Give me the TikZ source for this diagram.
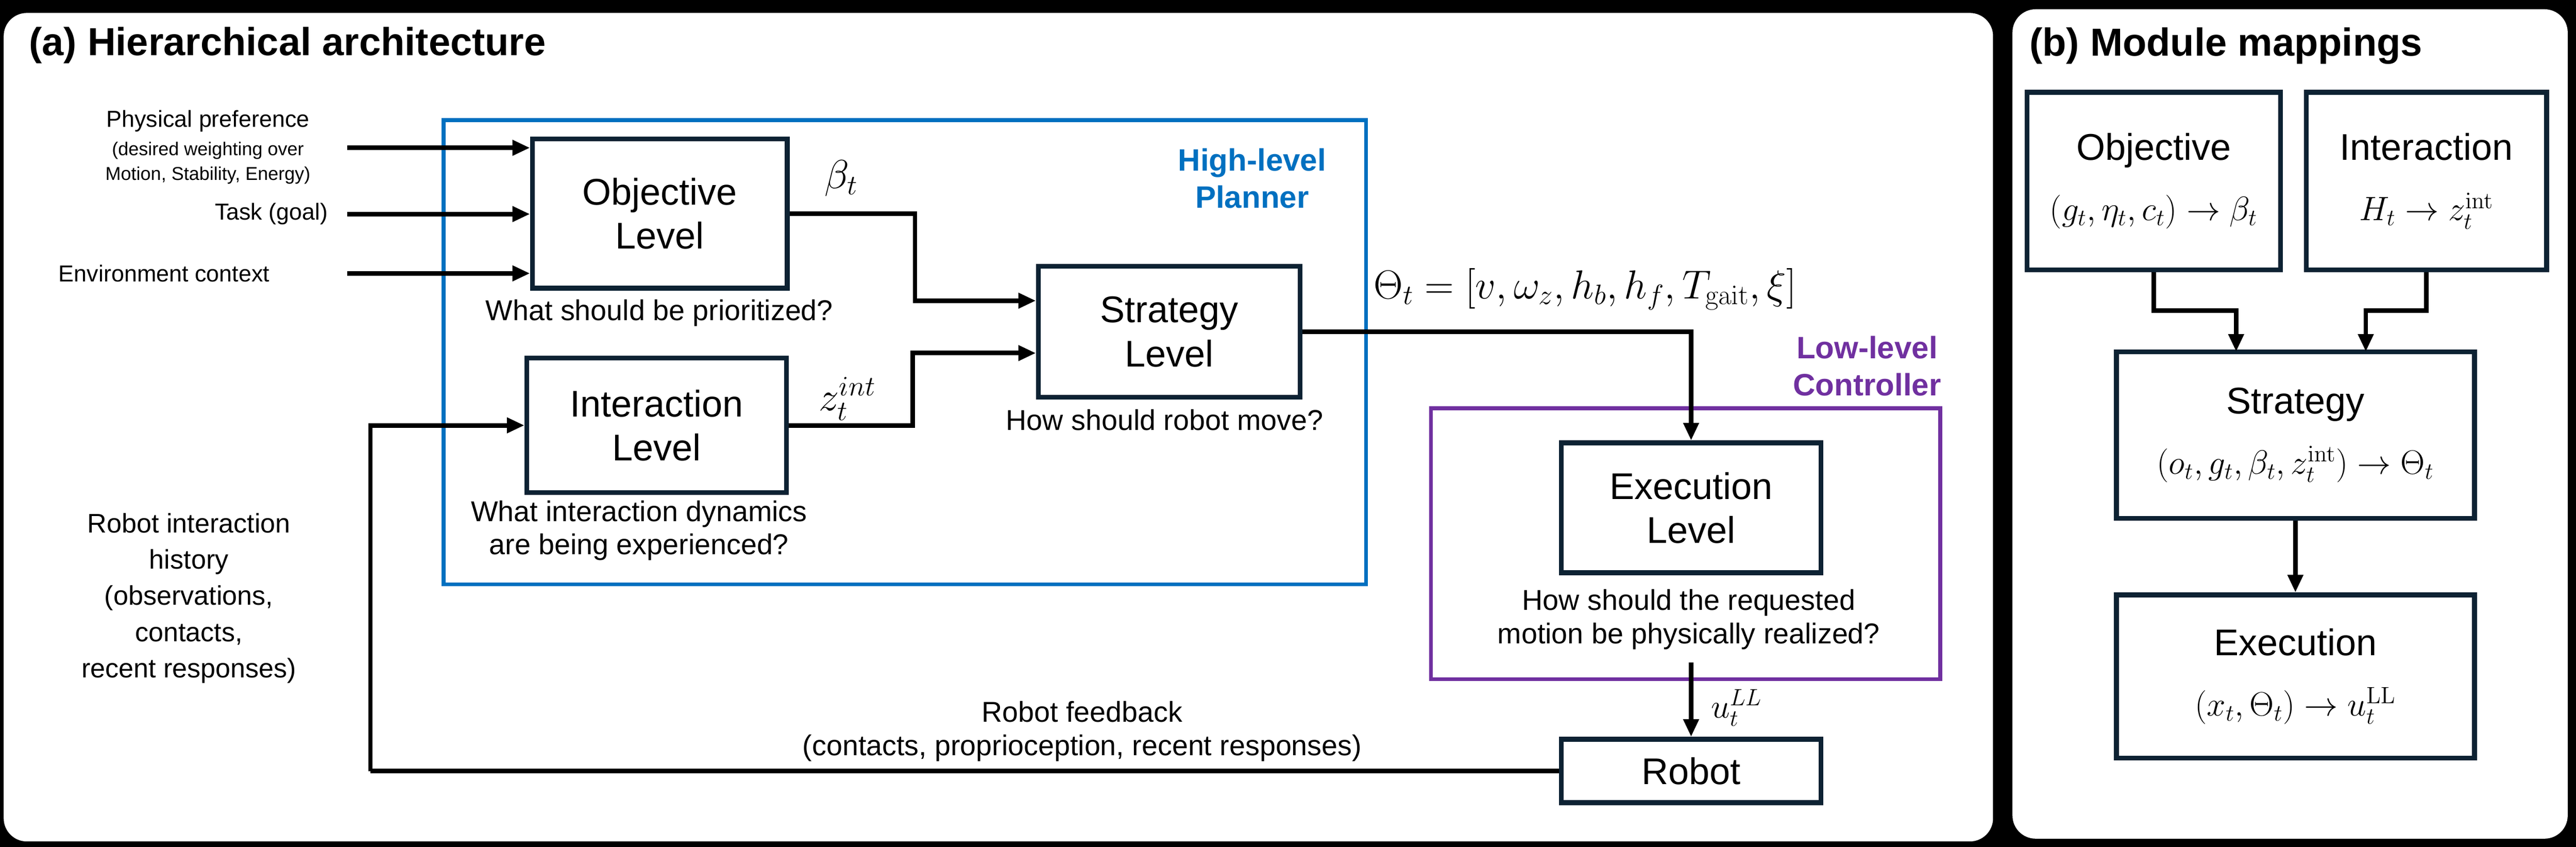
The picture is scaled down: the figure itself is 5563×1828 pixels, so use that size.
\documentclass[tikz,border=0pt]{standalone}
\usepackage[no-math]{fontspec}
\setmainfont{Liberation Sans}
\usetikzlibrary{arrows.meta,positioning,calc}
\definecolor{boxc}{HTML}{0D2233}
\definecolor{hlblue}{HTML}{0070C0}
\definecolor{llpurple}{HTML}{7030A0}
\tikzset{
  lvl/.style={draw=boxc,line width=3pt,fill=white,align=center,font=\fontsize{22.8}{27}\selectfont,inner sep=0pt},
  arr/.style={line width=2.8pt,-{Triangle[length=0.38cm,width=0.32cm]}},
  ln/.style={line width=2.8pt},
  qtxt/.style={align=center,font=\fontsize{17.6}{20.5}\selectfont,inner sep=0pt},
  intxt/.style={align=center,font=\fontsize{14.2}{17}\selectfont,inner sep=0pt},
  mlab/.style={inner sep=0pt,font=\fontsize{26}{30}\selectfont},
  ttl/.style={font=\bfseries\fontsize{24}{28}\selectfont,anchor=west,inner sep=0pt},
  mbox/.style={draw=boxc,line width=3pt,fill=white,align=center,font=\fontsize{22.8}{37}\selectfont,inner sep=0pt},
}
\newcommand{\mmath}[1]{{\fontsize{21}{37}\selectfont$#1$}}
\begin{document}
\begin{tikzpicture}[x=0.01cm,y=-0.01cm]
\useasboundingbox (0,0) rectangle (5563,1828);
\fill[black] (0,0) rectangle (5563,1828);
\fill[white,rounded corners=0.5cm] (8,28) rectangle (4304,1816);
\fill[white,rounded corners=0.5cm] (4346,20) rectangle (5545,1810);
\node[ttl] (ta) at (62,98) {(a) Hierarchical architecture};
\node[ttl] (tb) at (4382,99) {(b) Module mappings};

% group boxes
\draw[hlblue,line width=2.4pt] (958,259) rectangle (2950,1261);
\node[align=center,text=hlblue,font=\bfseries\fontsize{19}{23}\selectfont,inner sep=0pt] (hl) at (2704,385) {High-level\\Planner};
\draw[llpurple,line width=2.4pt] (3090,881) rectangle (4190,1466);
\node[align=center,text=llpurple,font=\bfseries\fontsize{19}{23}\selectfont,inner sep=0pt] (ll) at (4032,790) {Low-level\\Controller};

% level boxes
\node[lvl,minimum width=5.5cm,minimum height=3.22cm] (obj) at (1425,461) {Objective\\Level};
\node[lvl,minimum width=5.6cm,minimum height=2.9cm] (int) at (1418,918) {Interaction\\Level};
\node[lvl,minimum width=5.65cm,minimum height=2.82cm] (strat) at (2525,716) {Strategy\\Level};
\node[lvl,minimum width=5.6cm,minimum height=2.8cm] (exec) at (3652,1096) {Execution\\Level};
\node[lvl,minimum width=5.6cm,minimum height=1.37cm] (robot) at (3652,1664) {Robot};

% questions
\node[qtxt] (q1) at (1424,676) {What should be prioritized?};
\node[qtxt] (q2) at (1380,1145) {What interaction dynamics\\are being experienced?};
\node[qtxt] (q3) at (2515,906) {How should robot move?};
\node[qtxt] (q4) at (3647,1337) {How should the requested\\motion be physically realized?};

% left inputs
\node[intxt] (pp) at (449,261) {Physical preference};
\node[align=center,font=\fontsize{11.4}{15}\selectfont,inner sep=0pt] (pp2) at (449,352) {(desired weighting over\\Motion, Stability, Energy)};
\node[intxt,anchor=east] (task) at (709,462) {Task (goal)};
\node[intxt,anchor=west] (env) at (126,590) {Environment context};
\coordinate (s1) at (750,319);
\coordinate (s2) at (750,462);
\coordinate (s3) at (750,590);
\draw[arr] (s1) -- (s1 -| obj.west);
\draw[arr] (s2) -- (s2 -| obj.west);
\draw[arr] (s3) -- (s3 -| obj.west);
\node[align=center,font=\fontsize{16.5}{22.2}\selectfont,inner sep=0pt] (hist) at (408,1291) {Robot interaction\\history\\(observations,\\contacts,\\recent responses)};

% connectors
\draw[arr] (obj.east) -- (1976,461) |- ([yshift=0.67cm]strat.west);
\draw[arr] (int.east) -- (1971,918) |- ([yshift=-0.46cm]strat.west);
\node[mlab] (beta) at (1817,385) {$\beta_t$};
\node[mlab] (zint) at (1830,861) {$z_t^{int}$};
\draw[arr] (strat.east) -| (exec.north);
\node[mlab] (theta) at (3423,624) {$\Theta_t=[v,\omega_z,h_b,h_f,T_{\mathrm{gait}},\xi]$};
\coordinate (eo) at (3652,1430);
\draw[arr] (eo) -- (robot.north);
\node[mlab,font=\fontsize{22}{26}\selectfont] (ull) at (3750,1528) {$u_t^{LL}$};
\coordinate (fb) at (800,1664);
\draw[ln] (robot.west) -- (fb);
\draw[arr] (fb) |- (int.west);
\node[qtxt] (fbt) at (2337,1578) {Robot feedback\\(contacts, proprioception, recent responses)};

% panel b
\node[mbox,minimum width=5.47cm,minimum height=3.83cm] (bobj) at (4651,391) {Objective\\\mmath{(g_t,\eta_t,c_t)\rightarrow\beta_t}};
\node[mbox,minimum width=5.19cm,minimum height=3.83cm] (bint) at (5240,391) {Interaction\\\mmath{H_t\rightarrow z_t^{\mathrm{int}}}};
\node[mbox,minimum width=7.73cm,minimum height=3.59cm] (bstr) at (4957,939) {Strategy\\\mmath{(o_t,g_t,\beta_t,z_t^{\mathrm{int}})\rightarrow\Theta_t}};
\node[mbox,minimum width=7.73cm,minimum height=3.52cm] (bexe) at (4957,1460) {Execution\\\mmath{(x_t,\Theta_t)\rightarrow u_t^{\mathrm{LL}}}};
\draw[arr] (bobj.south) -- (4651,670) -| (4829,759);
\draw[arr] (bint.south) -- (5240,670) -| (5109,759);
\draw[arr] (bstr.south) -- (bexe.north);
\end{tikzpicture}
\end{document}
